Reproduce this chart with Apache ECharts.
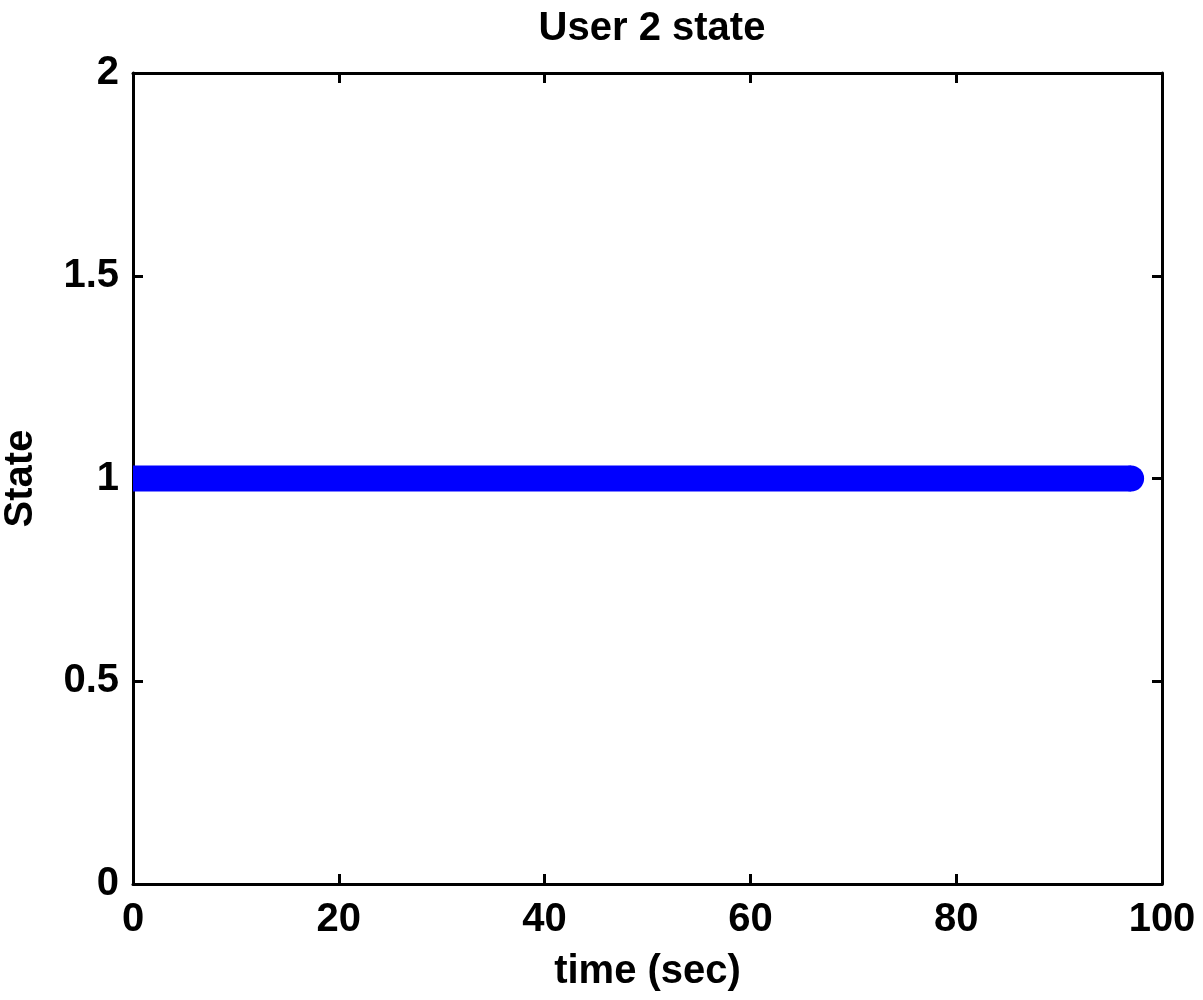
<!DOCTYPE html>
<html>
<head>
<meta charset="UTF-8">
<title>User 2 state</title>
<script src="https://cdn.jsdelivr.net/npm/echarts@6/dist/echarts.min.js"></script>
<style>
  html, body { margin: 0; padding: 0; background: #fff; }
  #main { width: 1203px; height: 1000px; }
</style>
</head>
<body>
<div id="main"></div>
<script type="text/javascript">
// time samples (sec) and user 2 state at each sample
var timeSec = [0, 1, 2, 3, 4, 5, 6, 7, 8, 9, 10, 11, 12, 13, 14, 15, 16, 17, 18, 19,
  20, 21, 22, 23, 24, 25, 26, 27, 28, 29, 30, 31, 32, 33, 34, 35, 36, 37, 38, 39,
  40, 41, 42, 43, 44, 45, 46, 47, 48, 49, 50, 51, 52, 53, 54, 55, 56, 57, 58, 59,
  60, 61, 62, 63, 64, 65, 66, 67, 68, 69, 70, 71, 72, 73, 74, 75, 76, 77, 78, 79,
  80, 81, 82, 83, 84, 85, 86, 87, 88, 89, 90, 91, 92, 93, 94, 95, 96, 97];
var userState = [1, 1, 1, 1, 1, 1, 1, 1, 1, 1, 1, 1, 1, 1, 1, 1, 1, 1, 1, 1,
  1, 1, 1, 1, 1, 1, 1, 1, 1, 1, 1, 1, 1, 1, 1, 1, 1, 1, 1, 1,
  1, 1, 1, 1, 1, 1, 1, 1, 1, 1, 1, 1, 1, 1, 1, 1, 1, 1, 1, 1,
  1, 1, 1, 1, 1, 1, 1, 1, 1, 1, 1, 1, 1, 1, 1, 1, 1, 1, 1, 1,
  1, 1, 1, 1, 1, 1, 1, 1, 1, 1, 1, 1, 1, 1, 1, 1, 1, 1];

var points = [];
for (var i = 0; i < timeSec.length; i++) {
  points.push([timeSec[i], userState[i]]);
}
var last = points.length - 1;

var myChart = echarts.init(document.getElementById('main'));
var font = 'Liberation Sans, Arial, sans-serif';
var txt = { fontFamily: font, fontSize: 40, fontWeight: 'bold', color: '#000' };
var axisLine = { show: true, onZero: false, lineStyle: { color: '#000', width: 3 } };
var tick = { show: true, inside: true, length: 10, lineStyle: { color: '#000', width: 3 } };

var option = {
  animation: false,
  backgroundColor: '#fff',
  title: {
    text: 'User 2 state',
    left: 647,
    textAlign: 'center',
    top: 4,
    textStyle: txt
  },
  grid: { left: 133, right: 41, top: 73, bottom: 116, containLabel: false, outerBoundsMode: 'none' },
  xAxis: [
    {
      type: 'value', position: 'bottom', min: 0, max: 100, interval: 20,
      name: 'time (sec)', nameLocation: 'middle', nameGap: 68,
      nameTextStyle: txt,
      axisLine: axisLine, axisTick: tick,
      axisLabel: Object.assign({ margin: 16 }, txt),
      splitLine: { show: false }
    },
    {
      type: 'value', position: 'top', min: 0, max: 100, interval: 20,
      axisLine: axisLine, axisTick: tick, axisLabel: { show: false }, splitLine: { show: false }
    }
  ],
  yAxis: [
    {
      type: 'value', position: 'left', min: 0, max: 2, interval: 0.5,
      name: 'State', nameLocation: 'middle', nameGap: 92,
      nameTextStyle: txt,
      axisLine: axisLine, axisTick: tick,
      axisLabel: Object.assign({ margin: 14 }, txt),
      splitLine: { show: false }
    },
    {
      type: 'value', position: 'right', min: 0, max: 2, interval: 0.5,
      axisLine: axisLine, axisTick: tick, axisLabel: { show: false }, splitLine: { show: false }
    }
  ],
  series: [
    {
      type: 'line',
      data: points,
      clip: true,
      symbol: 'circle',
      showAllSymbol: true,
      symbolSize: function (val, params) {
        return params.dataIndex === last ? 26 : 0;
      },
      itemStyle: { color: '#0000ff' },
      lineStyle: { color: '#0000ff', width: 26, cap: 'butt', join: 'round' }
    }
  ]
};

myChart.setOption(option);
</script>
</body>
</html>
